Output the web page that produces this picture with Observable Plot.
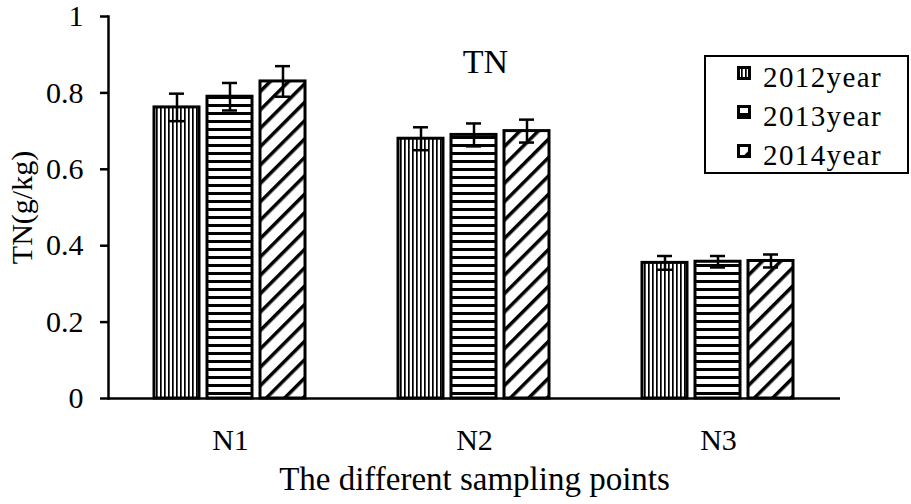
<!DOCTYPE html>
<html><head><meta charset="utf-8">
<script src="https://cdn.jsdelivr.net/npm/d3@7"></script>
<script src="https://cdn.jsdelivr.net/npm/@observablehq/plot@0.6"></script>
<style>
body{margin:0;background:#fff;}
#wrap{position:relative;width:911px;height:504px;overflow:hidden;}
#legend{position:absolute;left:704px;top:55px;width:205px;height:119px;box-sizing:border-box;border:2px solid #000;background:#fff;}
.lrow{position:absolute;left:31px;height:30px;display:flex;align-items:flex-start;}
.lrow svg{display:block;margin-top:4px;}
.lrow span{font-family:'Liberation Serif','Times New Roman',serif;font-size:29px;line-height:30px;letter-spacing:1.4px;margin-left:12px;color:#000;}
</style></head><body>
<svg width="0" height="0" style="position:absolute">
  <defs>
    <pattern id="p2012" patternUnits="userSpaceOnUse" width="4" height="4">
      <rect width="4" height="4" fill="#fff"/><rect x="0" y="0" width="1.7" height="4" fill="#000"/>
    </pattern>
    <pattern id="p2013" patternUnits="userSpaceOnUse" width="8" height="8">
      <rect width="8" height="8" fill="#fff"/><rect x="0" y="0" width="8" height="3" fill="#000"/>
    </pattern>
    <pattern id="p2014" patternUnits="userSpaceOnUse" width="13" height="13" patternTransform="rotate(-45)">
      <rect width="13" height="13" fill="#fff"/><rect x="0" y="0" width="13" height="3.5" fill="#000"/>
    </pattern>
  </defs>
</svg>
<div id="wrap"></div>
<script>
const sites = ["N1", "N2", "N3"];
const years = ["2012year", "2013year", "2014year"];
const tn2012 = [0.762, 0.68, 0.355];
const tn2013 = [0.79, 0.69, 0.358];
const tn2014 = [0.83, 0.70, 0.36];
const sd2012 = [0.036, 0.03, 0.018];
const sd2013 = [0.036, 0.03, 0.015];
const sd2014 = [0.04, 0.03, 0.017];
const yTicks = [0, 0.2, 0.4, 0.6, 0.8, 1];
const patterns = ["p2012", "p2013", "p2014"];
const titleText = "TN";
const yLabel = "TN(g/kg)";
const xLabel = "The different sampling points";

const series = [[tn2012, sd2012], [tn2013, sd2013], [tn2014, sd2014]];
const rows = [];
sites.forEach((s, i) => {
  series.forEach(([vals, errs], j) => {
    rows.push({site: s, year: years[j], v: vals[i], e: errs[i], pat: patterns[j]});
  });
});

const font = "'Liberation Serif', 'Times New Roman', serif";
const barMarks = years.map((yr, j) =>
  Plot.barY(rows.filter(d => d.year === yr), {
    fx: "site", x: "year", y: "v",
    fill: `url(#${patterns[j]})`, stroke: "#000", strokeWidth: 3
  })
);

const chart = Plot.plot({
  width: 911, height: 504,
  marginLeft: 108, marginRight: 71, marginTop: 16, marginBottom: 106,
  style: {fontFamily: font, fontSize: "30px", background: "#fff", color: "#000", overflow: "visible"},
  fx: {domain: sites, padding: 0, label: null},
  x: {domain: years, paddingInner: 0.15, paddingOuter: 0.875, axis: null},
  y: {domain: [0, 1]},
  marks: [
    ...barMarks,
    Plot.ruleX(rows, {fx: "site", x: "year", y1: d => d.v - d.e, y2: d => d.v + d.e, stroke: "#000", strokeWidth: 2.5}),
    Plot.tickY(rows, {fx: "site", x: "year", y: d => d.v + d.e, inset: 15, stroke: "#000", strokeWidth: 2.5}),
    Plot.tickY(rows, {fx: "site", x: "year", y: d => d.v - d.e, inset: 15, stroke: "#000", strokeWidth: 2.5}),
    Plot.ruleY([0], {stroke: "#000", strokeWidth: 2.5}),
    Plot.frame({anchor: "left", facetAnchor: "left", stroke: "#000", strokeWidth: 2.5}),
    Plot.axisY({ticks: yTicks, tickFormat: d => String(d), tickSize: 8, tickPadding: 17, strokeWidth: 2.5,
      fontFamily: font, fontSize: 30,
      label: yLabel, labelAnchor: "center", labelArrow: "none", labelOffset: 98}),
    Plot.axisFx({anchor: "bottom", tickSize: 0, tickPadding: 30, fontFamily: font, fontSize: 30,
      label: null}),
    Plot.text([{site: "N2", t: xLabel}], {fx: "site", text: "t", frameAnchor: "bottom", dy: 91, fontSize: 33, fontFamily: font, letterSpacing: 1.5}),
    Plot.text([{site: "N2", t: titleText}], {fx: "site", text: "t", frameAnchor: "top", dy: 32, dx: 11, fontSize: 34, fontFamily: font})
  ]
});
const wrap = document.getElementById("wrap");
wrap.appendChild(chart);

// legend
const legend = document.createElement("div");
legend.id = "legend";
years.forEach((yr, j) => {
  const row = document.createElement("div");
  row.className = "lrow";
  row.style.top = (5 + 39 * j) + "px";
  row.innerHTML = `<svg width="14" height="14"><rect x="1.5" y="1.5" width="11" height="11" fill="url(#${patterns[j]})" stroke="#000" stroke-width="3"/></svg><span>${yr}</span>`;
  legend.appendChild(row);
});
wrap.appendChild(legend);
</script>
</body></html>
